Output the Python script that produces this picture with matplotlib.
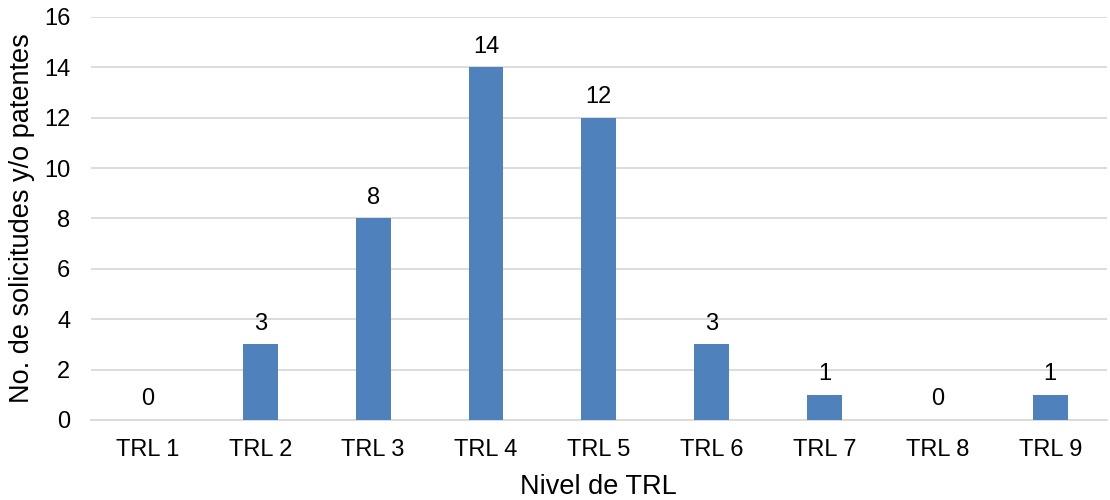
import matplotlib
matplotlib.use("Agg")
import matplotlib.pyplot as plt

plt.rcParams["font.family"] = ["Liberation Sans", "DejaVu Sans"]

niveles = ["TRL 1", "TRL 2", "TRL 3", "TRL 4", "TRL 5", "TRL 6", "TRL 7", "TRL 8", "TRL 9"]
solicitudes = [0, 3, 8, 14, 12, 3, 1, 0, 1]

AZUL = "#4F81BD"
GRIS = "#D9D9D9"

fig = plt.figure(figsize=(11.1, 5), dpi=100)
ax = fig.add_axes([0.082, 0.16, 0.915, 0.806])

x = range(len(niveles))
bars = ax.bar(x, solicitudes, width=0.31, color=AZUL, zorder=3)
for b, v in zip(bars, solicitudes):
    ax.annotate(f"{v}", (b.get_x() + b.get_width() / 2, v), xytext=(0, 7),
                textcoords="offset points", ha="center", va="bottom", fontsize=17)

ax.set_xlim(-0.5, len(niveles) - 0.5)
ax.set_ylim(0, 16)
ax.set_yticks(range(0, 17, 2))
ax.set_xticks(list(x))
ax.set_xticklabels(niveles)
ax.tick_params(axis="both", length=0, labelsize=17)
ax.tick_params(axis="x", pad=14)
ax.tick_params(axis="y", pad=15)
ax.grid(axis="y", color=GRIS, linewidth=1.3, zorder=0)
for s in ["top", "right", "left"]:
    ax.spines[s].set_visible(False)
ax.spines["bottom"].set_color(GRIS)
ax.spines["bottom"].set_linewidth(1.3)

ax.set_xlabel("Nivel de TRL", fontsize=19.5, labelpad=9)
ax.set_ylabel("No. de solicitudes y/o patentes", fontsize=19.5, labelpad=6)

fig.savefig("out.png", dpi=100)
